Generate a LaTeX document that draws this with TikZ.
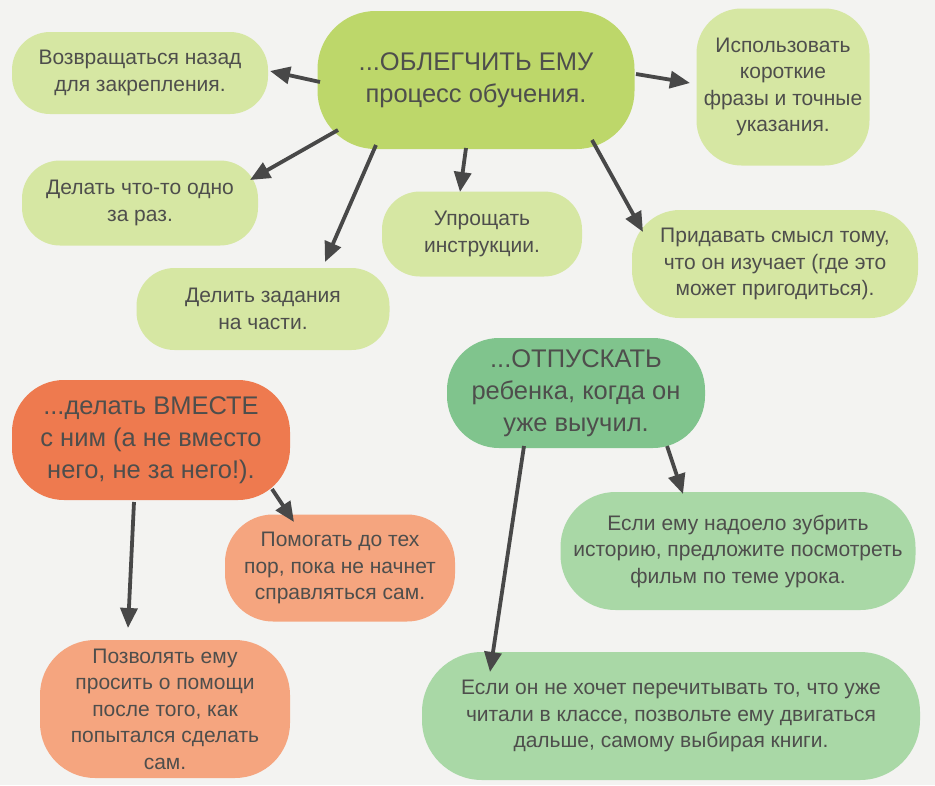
\documentclass[tikz,border=0pt]{standalone}
\usepackage{fontspec}
\setmainfont{Liberation Sans}
\usetikzlibrary{arrows.meta}
\definecolor{bg}{HTML}{F3F3F1}
\definecolor{leafg}{HTML}{D6E7A3}
\definecolor{maing}{HTML}{BDD76A}
\definecolor{mainr}{HTML}{EE7A4F}
\definecolor{leafr}{HTML}{F5A57F}
\definecolor{maint}{HTML}{80C48D}
\definecolor{leaft}{HTML}{A9D8A6}
\definecolor{txt}{HTML}{4E4E4C}
\definecolor{arrc}{HTML}{484848}
\tikzset{
  blob/.style={draw=none, align=center, inner sep=0pt, text=txt, rounded corners=38pt},
  leaftext/.style={font=\fontsize{21}{26.5}\selectfont},
  maintext/.style={font=\fontsize{25.5}{32}\selectfont},
  arr/.style={draw=arrc, line width=3.8pt, -{Triangle[length=20pt,width=17pt]}}
}
\begin{document}
\begin{tikzpicture}[x=1pt,y=-1pt]
\fill[bg] (0,0) rectangle (935,785);
\useasboundingbox (0,0) rectangle (935,785);

% green group
\node[blob, maintext, fill=maing, minimum width=317pt, minimum height=138pt, rounded corners=58pt] (main) at (476,80) {...ОБЛЕГЧИТЬ ЕМУ\\процесс обучения.};
\node[blob, leaftext, fill=leafg, minimum width=256pt, minimum height=82pt] (n1) at (140,73) {Возвращаться назад\\для закрепления.};
\node[blob, leaftext, fill=leafg, minimum width=173pt, minimum height=157pt, rounded corners=45pt] (n3) at (783,87) {Использовать\\короткие\\фразы и точные\\указания.};
\node[blob, leaftext, fill=leafg, minimum width=236pt, minimum height=85pt] (n4) at (140,203) {Делать что-то одно\\за раз.};
\node[blob, leaftext, fill=leafg, minimum width=200pt, minimum height=85pt] (n5) at (482,234) {Упрощать\\инструкции.};
\node[blob, leaftext, fill=leafg, minimum width=286pt, minimum height=108pt, rounded corners=48pt] (n6) at (775,264) {Придавать смысл тому,\\что он изучает (где это\\может пригодиться).};
\node[blob, leaftext, fill=leafg, minimum width=253pt, minimum height=82pt] (n7) at (263,309) {Делить задания\\на части.};

% orange group
\node[blob, maintext, fill=mainr, minimum width=278pt, minimum height=120pt, rounded corners=52pt] (n8) at (151,440) {...делать ВМЕСТЕ\\с ним (а не вместо\\него, не за него!).};
\node[blob, leaftext, fill=leafr, minimum width=230pt, minimum height=107pt, rounded corners=48pt] (n9) at (340,568) {Помогать до тех\\пор, пока не начнет\\справляться сам.};
\node[blob, leaftext, fill=leafr, minimum width=250pt, minimum height=138pt, rounded corners=55pt] (n10) at (165,709) {Позволять ему\\просить о помощи\\после того, как\\попытался сделать\\сам.};

% teal group
\node[blob, maintext, fill=maint, minimum width=258pt, minimum height=110pt, rounded corners=52pt] (n11) at (576,393) {...ОТПУСКАТЬ\\ребенка, когда он\\уже выучил.};
\node[blob, leaftext, fill=leaft, minimum width=355pt, minimum height=118pt, rounded corners=55pt] (n12) at (738,551) {Если ему надоело зубрить\\историю, предложите посмотреть\\фильм по теме урока.};
\node[blob, leaftext, fill=leaft, minimum width=498pt, minimum height=128pt, rounded corners=60pt] (n13) at (671,716) {Если он не хочет перечитывать то, что уже\\читали в классе, позвольте ему двигаться\\дальше, самому выбирая книги.};

% arrows
\draw[arr] ([shift={(-156,2)}]main.center) -- ([shift={(130,-2)}]n1.center);
\draw[arr] ([shift={(-138,50)}]main.center) -- ([shift={(110,-23)}]n4.center);
\draw[arr] ([shift={(-100,65)}]main.center) -- ([shift={(62,-47)}]n7.center);
\draw[arr] ([shift={(-10,68)}]main.center) -- ([shift={(-22,-42)}]n5.center);
\draw[arr] ([shift={(160,-6)}]main.center) -- ([shift={(-93,-4)}]n3.center);
\draw[arr] ([shift={(116,60)}]main.center) -- ([shift={(-132,-32)}]n6.center);
\draw[arr] ([shift={(-17,62)}]n8.center) -- ([shift={(-37,-81)}]n10.center);
\draw[arr] ([shift={(121,49)}]n8.center) -- ([shift={(-46,-46)}]n9.center);
\draw[arr] ([shift={(-52,53)}]n11.center) -- ([shift={(-181,-44)}]n13.center);
\draw[arr] ([shift={(91,53)}]n11.center) -- ([shift={(-55,-57)}]n12.center);
\end{tikzpicture}
\end{document}
